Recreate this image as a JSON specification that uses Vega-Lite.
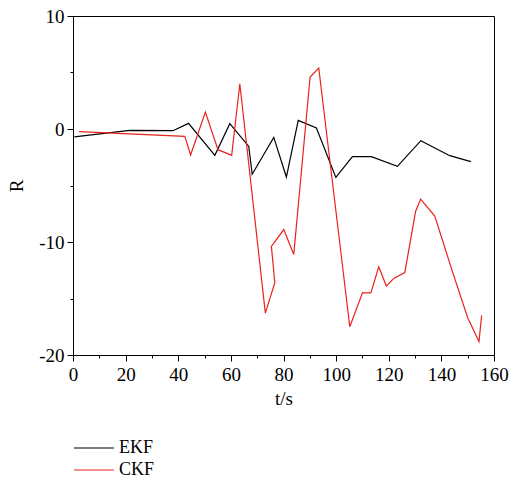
{
  "$schema": "https://vega.github.io/schema/vega-lite/v6.json",
  "width": 421,
  "height": 339,
  "autosize": "none",
  "padding": {"left": 73, "top": 16, "right": 16, "bottom": 126},
  "background": "white",
  "config": {
    "font": "'Liberation Serif', 'Times New Roman', 'DejaVu Serif', serif",
    "view": {"stroke": "black", "strokeWidth": 1},
    "axis": {"grid": false, "domainColor": "black", "tickColor": "black", "labelColor": "black", "titleColor": "black", "titleFontWeight": "normal", "domainWidth": 1, "tickWidth": 1}
  },
  "data": {"values": [
    {"series": "EKF", "idx": 1, "t": 0.5, "R": -0.7},
    {"series": "EKF", "idx": 2, "t": 21.6, "R": -0.12},
    {"series": "EKF", "idx": 3, "t": 38.0, "R": -0.15},
    {"series": "EKF", "idx": 4, "t": 43.9, "R": 0.5},
    {"series": "EKF", "idx": 5, "t": 53.9, "R": -2.33},
    {"series": "EKF", "idx": 6, "t": 59.6, "R": 0.47},
    {"series": "EKF", "idx": 7, "t": 66.8, "R": -1.54},
    {"series": "EKF", "idx": 8, "t": 68.1, "R": -4.0},
    {"series": "EKF", "idx": 9, "t": 76.3, "R": -0.74},
    {"series": "EKF", "idx": 10, "t": 81.1, "R": -4.25},
    {"series": "EKF", "idx": 11, "t": 85.6, "R": 0.76},
    {"series": "EKF", "idx": 12, "t": 92.5, "R": 0.09},
    {"series": "EKF", "idx": 13, "t": 99.9, "R": -4.28},
    {"series": "EKF", "idx": 14, "t": 106.2, "R": -2.45},
    {"series": "EKF", "idx": 15, "t": 113.4, "R": -2.45},
    {"series": "EKF", "idx": 16, "t": 123.3, "R": -3.3},
    {"series": "EKF", "idx": 17, "t": 132.2, "R": -1.03},
    {"series": "EKF", "idx": 18, "t": 143.2, "R": -2.36},
    {"series": "EKF", "idx": 19, "t": 151.2, "R": -2.89},
    {"series": "CKF", "idx": 1, "t": 2.3, "R": -0.24},
    {"series": "CKF", "idx": 2, "t": 42.5, "R": -0.65},
    {"series": "CKF", "idx": 3, "t": 44.7, "R": -2.3},
    {"series": "CKF", "idx": 4, "t": 50.3, "R": 1.5},
    {"series": "CKF", "idx": 5, "t": 55.1, "R": -1.83},
    {"series": "CKF", "idx": 6, "t": 60.3, "R": -2.33},
    {"series": "CKF", "idx": 7, "t": 63.4, "R": 4.0},
    {"series": "CKF", "idx": 8, "t": 73.1, "R": -16.3},
    {"series": "CKF", "idx": 9, "t": 76.7, "R": -13.6},
    {"series": "CKF", "idx": 10, "t": 75.4, "R": -10.4},
    {"series": "CKF", "idx": 11, "t": 80.1, "R": -8.9},
    {"series": "CKF", "idx": 12, "t": 83.9, "R": -11.1},
    {"series": "CKF", "idx": 13, "t": 90.1, "R": 4.6},
    {"series": "CKF", "idx": 14, "t": 93.4, "R": 5.4},
    {"series": "CKF", "idx": 15, "t": 105.2, "R": -17.5},
    {"series": "CKF", "idx": 16, "t": 110.0, "R": -14.5},
    {"series": "CKF", "idx": 17, "t": 113.2, "R": -14.5},
    {"series": "CKF", "idx": 18, "t": 116.2, "R": -12.2},
    {"series": "CKF", "idx": 19, "t": 119.1, "R": -13.9},
    {"series": "CKF", "idx": 20, "t": 122.0, "R": -13.2},
    {"series": "CKF", "idx": 21, "t": 126.1, "R": -12.7},
    {"series": "CKF", "idx": 22, "t": 130.2, "R": -7.3},
    {"series": "CKF", "idx": 23, "t": 132.1, "R": -6.2},
    {"series": "CKF", "idx": 24, "t": 137.5, "R": -7.7},
    {"series": "CKF", "idx": 25, "t": 143.9, "R": -12.4},
    {"series": "CKF", "idx": 26, "t": 150.0, "R": -16.7},
    {"series": "CKF", "idx": 27, "t": 154.3, "R": -18.8},
    {"series": "CKF", "idx": 28, "t": 155.3, "R": -16.5}
  ]},
  "mark": {"type": "line", "strokeWidth": 1.2},
  "encoding": {
    "x": {
      "field": "t", "type": "quantitative",
      "scale": {"domain": [0, 160], "nice": false, "zero": false},
      "axis": {
        "title": "t/s",
        "values": [0, 10, 20, 30, 40, 50, 60, 70, 80, 90, 100, 110, 120, 130, 140, 150, 160],
        "labelExpr": "datum.value % 20 == 0 ? toString(datum.value) : ''",
        "tickSize": {"condition": {"test": "datum.value % 20 != 0", "value": 3}, "value": 6},
        "labelFontSize": 19,
        "titleFontSize": 19,
        "labelPadding": 4,
        "titlePadding": 5,
        "labelFlush": false
      }
    },
    "y": {
      "field": "R", "type": "quantitative",
      "scale": {"domain": [-20, 10], "nice": false, "zero": false},
      "axis": {
        "title": "R",
        "values": [-20, -15, -10, -5, 0, 5, 10],
        "labelExpr": "datum.value % 10 == 0 ? toString(datum.value) : ''",
        "tickSize": {"condition": {"test": "datum.value % 10 != 0", "value": 3}, "value": 6},
        "labelFontSize": 19,
        "titleFontSize": 19,
        "labelPadding": 3,
        "titlePadding": 12,
        "labelFlush": false
      }
    },
    "color": {
      "field": "series", "type": "nominal",
      "scale": {"domain": ["EKF", "CKF"], "range": ["black", "#e8221b"]},
      "legend": {
        "title": null,
        "orient": "none",
        "legendX": 10,
        "legendY": 421,
        "padding": 0,
        "symbolType": "M-2,0H2",
        "symbolSize": 400,
        "symbolStrokeWidth": 1.2,
        "labelOffset": 14,
        "labelFontSize": 18,
        "labelColor": "black",
        "rowPadding": 2
      }
    },
    "order": {"field": "idx", "type": "quantitative"}
  }
}
